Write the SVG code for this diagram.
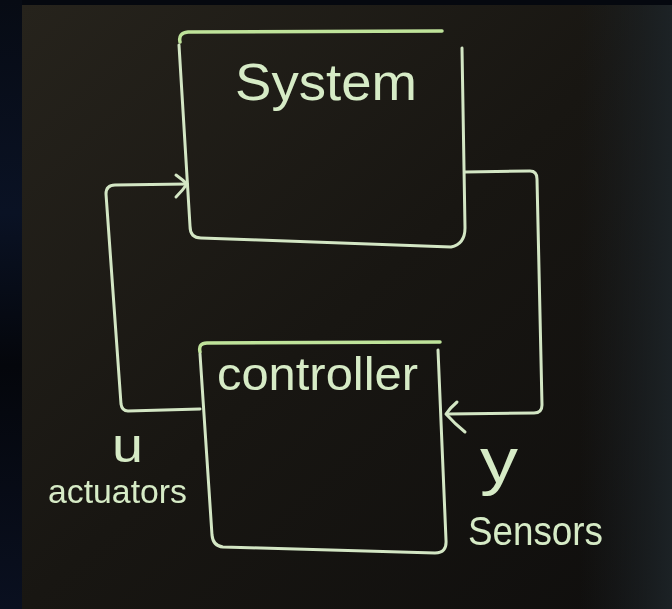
<svg xmlns="http://www.w3.org/2000/svg" width="672" height="609" viewBox="0 0 672 609">
<defs>
<linearGradient id="board" x1="0" y1="0" x2="1" y2="1">
<stop offset="0" stop-color="#26231c"/>
<stop offset="0.5" stop-color="#181612"/>
<stop offset="1" stop-color="#0f0e0d"/>
</linearGradient>
<linearGradient id="rightfade" x1="0" y1="0" x2="1" y2="0">
<stop offset="0" stop-color="#1b2024" stop-opacity="0"/>
<stop offset="1" stop-color="#1d2428" stop-opacity="0.9"/>
</linearGradient>
<linearGradient id="leftstrip" x1="0" y1="0" x2="0" y2="1">
<stop offset="0" stop-color="#070b14"/>
<stop offset="0.35" stop-color="#0a1224"/>
<stop offset="0.6" stop-color="#04060b"/>
<stop offset="1" stop-color="#0a1020"/>
</linearGradient>
<filter id="chalk" x="-5%" y="-5%" width="110%" height="110%">
<feGaussianBlur stdDeviation="0.5"/>
</filter>
</defs>
<style>
.ln{fill:none;stroke:#d3e6c4;stroke-width:3;stroke-linecap:round;stroke-linejoin:round}
.top{fill:none;stroke:#bfe39a;stroke-width:3.5;stroke-linecap:round}
.tx{fill:#d6ebc6;font-family:"Liberation Sans","DejaVu Sans",sans-serif}
</style>
<rect width="672" height="609" fill="#05080f"/>
<rect x="0" y="0" width="22" height="609" fill="url(#leftstrip)"/>
<rect x="22" y="5" width="650" height="604" fill="url(#board)"/>
<rect x="580" y="5" width="92" height="604" fill="url(#rightfade)"/>

<g id="connectors" filter="url(#chalk)">
<path class="ln" d="M200,409 L128,411 Q122,411 121,404 L106,194 Q106,185 115,185 L187,184"/>
<path class="ln" d="M176,175 Q183,180 187,184 Q183,190 176,197"/>
<path class="ln" d="M465,172 L530,171 Q537,171 537,179 L542,405 Q542,413 534,413 L447,414"/>
<path class="ln" d="M457,402 Q450,408 446,414 Q455,424 465,432"/>
</g>

<g id="system" filter="url(#chalk)">
<path class="top" d="M180,42 Q178,33 188,32 L442,31"/>
<path class="ln" d="M462,48 L465,228 Q465,244 451,247 L201,238 Q190,238 190,226 L179,45"/>
<text class="tx" x="235" y="100" font-size="52" textLength="182" lengthAdjust="spacingAndGlyphs">System</text>
</g>

<g id="controller" filter="url(#chalk)">
<path class="top" d="M200,352 Q198,343 207,343 L440,342"/>
<path class="ln" d="M438,350 L446,540 Q447,553 435,553 L223,547 Q213,546 212,535 L200,354"/>
<text class="tx" x="217" y="390" font-size="46" textLength="201" lengthAdjust="spacingAndGlyphs">controller</text>
</g>

<g id="labels" filter="url(#chalk)">
<text class="tx" x="112" y="462" font-size="48" textLength="31" lengthAdjust="spacingAndGlyphs">u</text>
<text class="tx" x="48" y="503" font-size="34" textLength="139" lengthAdjust="spacingAndGlyphs">actuators</text>
<text class="tx" x="480" y="483" font-size="64" textLength="38" lengthAdjust="spacingAndGlyphs">y</text>
<text class="tx" x="468" y="545" font-size="40" textLength="135" lengthAdjust="spacingAndGlyphs" fill="#e4f2da">Sensors</text>
</g>
</svg>
